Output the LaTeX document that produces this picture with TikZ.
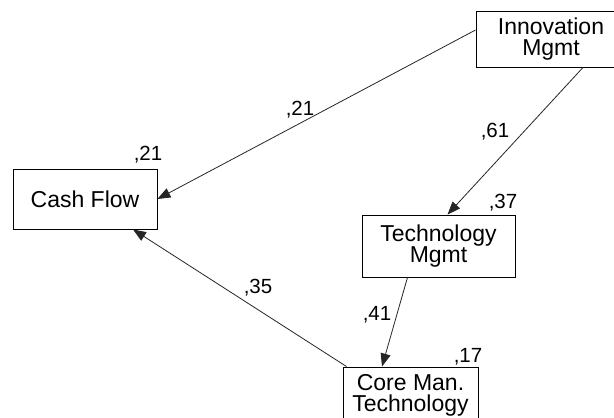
\documentclass[tikz,border=0pt]{standalone}
\usepackage{fontspec}
\setmainfont{Liberation Sans}
\usetikzlibrary{arrows.meta}
\begin{document}
\begin{tikzpicture}[x=1pt,y=-1pt,
  box/.style={draw=black,line width=0.9pt,rectangle,align=center,inner sep=0pt,
    font=\fontsize{23}{21}\selectfont},
  lbl/.style={font=\fontsize{20.5}{20}\selectfont,inner sep=0pt},
  conn/.style={draw=black!85,line width=0.8pt,-{Triangle[length=13pt,width=10pt]}}]
\useasboundingbox[fill=white] (0,0) rectangle (614,418);
\node[box,minimum width=150pt,minimum height=56pt] (innov) at (551,39) {Innovation\\Mgmt};
\node[box,minimum width=144pt,minimum height=60pt] (cash) at (85,199) {Cash Flow};
\node[box,minimum width=153pt,minimum height=62pt] (tech) at (438.5,246) {Technology\\Mgmt};
\node[box,minimum width=135pt,minimum height=56pt] (core) at (410.5,395) {Core Man.\\Technology};
\draw[conn] ([yshift=9pt]innov.west) -- (cash.east);
\draw[conn] ([xshift=32pt]innov.south) -- ([xshift=9pt]tech.north);
\draw[conn] ([xshift=-31pt]tech.south) -- ([xshift=-28.5pt]core.north);
\draw[conn] ([xshift=4pt]core.north west) -- ([xshift=48pt]cash.south);
\node[lbl] (l1) at (300,110) {,21};
\node[lbl] (l2) at (495,132) {,61};
\node[lbl] (l3) at (503,203) {,37};
\node[lbl] (l4) at (148,155) {,21};
\node[lbl] (l5) at (377,315) {,41};
\node[lbl] (l6) at (258,288) {,35};
\node[lbl] (l7) at (468,357) {,17};
\end{tikzpicture}
\end{document}
